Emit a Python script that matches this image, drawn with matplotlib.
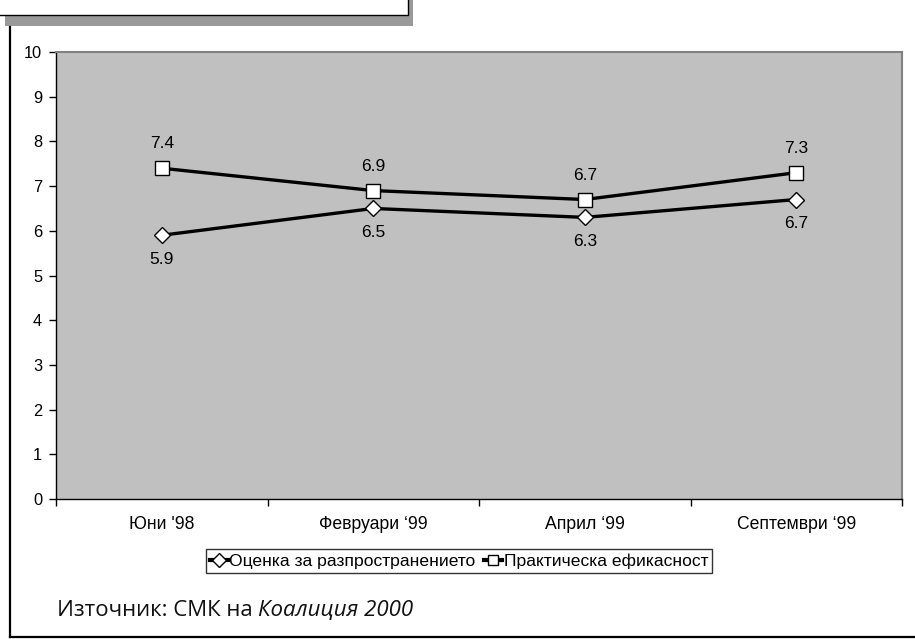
import matplotlib
matplotlib.use("Agg")
import matplotlib.pyplot as plt
from matplotlib.patches import Rectangle
from matplotlib.lines import Line2D

categories = ["Юни '98", "Февруари ‘99", "Април ‘99", "Септември ‘99"]
series_names = ["Оценка за разпространението", "Практическа ефикасност"]
ocenka = [5.9, 6.5, 6.3, 6.7]
praktika = [7.4, 6.9, 6.7, 7.3]
yticks = list(range(0, 11))

W, H = 915, 639
fig = plt.figure(figsize=(W / 100, H / 100), dpi=100)
plt.rcParams['font.family'] = ['Liberation Sans', 'DejaVu Sans']

def fx(px):
    return px / W

def fy(py):
    return 1 - py / H

# decorative outer frame and cut-off title box
fig.add_artist(Rectangle((fx(5), fy(26)), fx(413) - fx(5), fy(-5) - fy(26),
                         transform=fig.transFigure, facecolor='#999999', edgecolor='none', zorder=1))
fig.add_artist(Rectangle((fx(-2), fy(15)), fx(408) - fx(-2), fy(-5) - fy(15),
                         transform=fig.transFigure, facecolor='white', edgecolor='black', lw=1.0, zorder=2))
fig.add_artist(Line2D([fx(10), fx(10)], [fy(27), fy(637)], transform=fig.transFigure,
                      color='black', lw=1.6, zorder=2))
fig.add_artist(Line2D([fx(10), fx(916)], [fy(637), fy(637)], transform=fig.transFigure,
                      color='black', lw=1.6, zorder=2))

left, right, top, bottom = 56, 902, 52, 499
ax = fig.add_axes([fx(left), fy(bottom), fx(right) - fx(left), fy(top) - fy(bottom)])
ax.set_facecolor('#c0c0c0')
x = list(range(len(categories)))

ax.plot(x, ocenka, color='black', lw=2.4, marker='D', markersize=8,
        markerfacecolor='white', markeredgecolor='black', markeredgewidth=1.0,
        label=series_names[0], zorder=3)
ax.plot(x, praktika, color='black', lw=2.4, marker='s', markersize=10,
        markerfacecolor='white', markeredgecolor='black', markeredgewidth=1.0,
        label=series_names[1], zorder=3)

for xi, v in zip(x, ocenka):
    ax.annotate(f"{v:.1f}", (xi, v), xytext=(0, -17.5), textcoords='offset points',
                ha='center', va='center', fontsize=12.5)
for xi, v in zip(x, praktika):
    ax.annotate(f"{v:.1f}", (xi, v), xytext=(0, 17.5), textcoords='offset points',
                ha='center', va='center', fontsize=12.5)

ax.set_xlim(-0.5, len(categories) - 0.5)
ax.set_ylim(0, 10)
ax.set_yticks(yticks)
ax.set_yticklabels([str(t) for t in yticks], fontsize=11.8)
ax.set_xticks(x)
ax.set_xticklabels(categories, fontsize=12.7)
ax.set_xticks([i - 0.5 for i in range(len(categories) + 1)], minor=True)
ax.tick_params(axis='x', which='major', length=0, pad=12)
ax.tick_params(axis='x', which='minor', length=5, width=1, direction='out')
ax.tick_params(axis='y', length=5, width=1, direction='out', pad=5)
for s in ['top', 'right']:
    ax.spines[s].set_color('#808080')
    ax.spines[s].set_linewidth(1.5)
for s in ['left', 'bottom']:
    ax.spines[s].set_color('black')
    ax.spines[s].set_linewidth(1.0)

leg = fig.legend(loc='center', bbox_to_anchor=(fx(459), fy(561)), ncol=2, fontsize=12.6,
                 frameon=True, fancybox=False, handlelength=1.0, handletextpad=0.1,
                 columnspacing=0.5, borderpad=0.25, borderaxespad=0)
leg.get_frame().set_edgecolor('black')
leg.get_frame().set_linewidth(1.0)
for h in leg.legend_handles:
    h.set_markersize(7.5)
    h.set_linewidth(3)

src_font = ['Open Sans', 'DejaVu Sans']
t1 = fig.text(fx(57), fy(610), "Източник: СМК на ", fontsize=16, family=src_font,
              ha='left', va='center', color='#111111')
fig.canvas.draw()
bb = t1.get_window_extent(renderer=fig.canvas.get_renderer())
fig.text(bb.x1 / W, fy(610), "Коалиция 2000", fontsize=16, family=src_font,
         style='italic', ha='left', va='center', color='#111111')

fig.savefig("out.png", dpi=100)
